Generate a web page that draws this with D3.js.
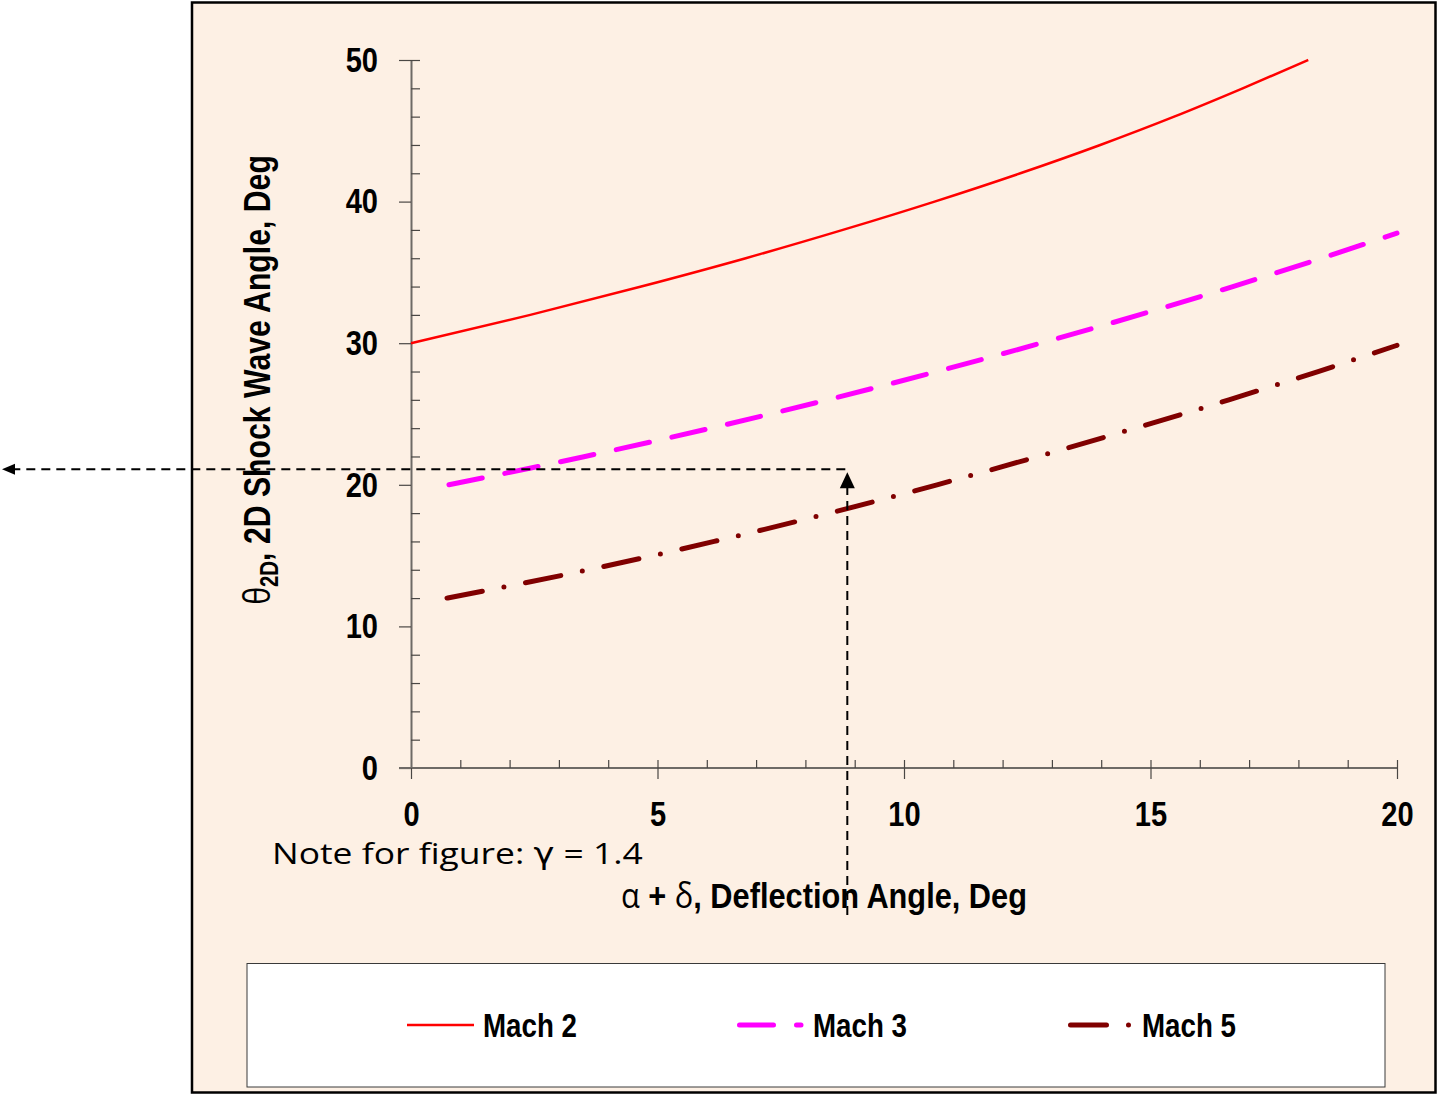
<!DOCTYPE html>
<html>
<head>
<meta charset="utf-8">
<script src="https://cdn.jsdelivr.net/npm/d3@7"></script>
<style>
  html, body { margin: 0; padding: 0; background: #ffffff; }
  svg { display: block; }
  .narrow { font-family: 'Liberation Sans Narrow', 'Arial Narrow', 'Liberation Sans', Arial, sans-serif; font-weight: bold; }
  .greek { font-family: 'Open Sans', 'DejaVu Sans', sans-serif; font-weight: normal; }
</style>
</head>
<body>
<svg id="chart" width="1437" height="1095"></svg>
<script>
// Oblique-shock curves: deflection angle (deg) vs. 2D shock wave angle (deg), gamma = 1.4
const mach2Deflection = [0, 2.42, 4.67, 6.79, 8.76, 10.62, 12.36, 13.98, 15.48, 16.87, 18.2];
const mach2Shock      = [30, 32, 34, 36, 38, 40, 42, 44, 46, 48, 50];
const mach3Deflection = [0.77, 3.53, 6.08, 8.45, 10.67, 12.77, 14.77, 16.67, 18.47, 20.0];
const mach3Shock      = [20, 22, 24, 26, 28, 30, 32, 34, 36, 37.77];
const mach5Deflection = [0.73, 3.60, 6.15, 8.49, 10.67, 12.72, 14.69, 16.59, 18.40, 20.0];
const mach5Shock      = [12, 14, 16, 18, 20, 22, 24, 26, 28, 29.85];

const seriesNames = ["Mach 2", "Mach 3", "Mach 5"];
const xTicks = [0, 5, 10, 15, 20];
const yTicks = [0, 10, 20, 30, 40, 50];

// Worked example: read-off point on the Mach 3 curve
const readDeflection = 8.85;
const readShock = 21.1;

const svg = d3.select("#chart");

// Squeeze or stretch a text element horizontally around its x anchor
function scaleText(el, f) {
  const base = el.getAttribute("transform") || "";
  const ax = +(el.getAttribute("x") || 0);
  el.setAttribute("transform", `${base} translate(${ax},0) scale(${f},1) translate(${-ax},0)`);
}
function fitWidth(el, target) {
  scaleText(el, target / el.getBBox().width);
}

// Panel
svg.append("rect")
  .attr("x", 192).attr("y", 2.5).attr("width", 1243.5).attr("height", 1090)
  .attr("fill", "#fdf0e4").attr("stroke", "#000").attr("stroke-width", 2.5);

const x = d3.scaleLinear().domain([0, 20]).range([411, 1397]);
const y = d3.scaleLinear().domain([0, 50]).range([768, 60]);

const axisColor = "#6e6a66";
const narrowFactor = 0.83;

// Y axis: major ticks outside, minor ticks inside
const yMajor = svg.append("g").attr("transform", `translate(${x(0)},0)`)
  .call(d3.axisLeft(y).tickValues(yTicks).tickSize(12).tickPadding(21).tickSizeOuter(0));
const yMinor = svg.append("g").attr("transform", `translate(${x(0)},0)`)
  .call(d3.axisLeft(y).tickValues(d3.range(2, 51, 2).filter(v => v % 10 !== 0 || v === 50))
    .tickSize(-9).tickFormat("").tickSizeOuter(0));

// X axis: major ticks cross the line, minor ticks inside
const xMajor = svg.append("g").attr("transform", `translate(0,${y(0)})`)
  .call(d3.axisBottom(x).tickValues(xTicks).tickSize(11).tickPadding(22).tickSizeOuter(0));
xMajor.selectAll(".tick line").filter(d => d !== 0).attr("y1", -8);
const xMinor = svg.append("g").attr("transform", `translate(0,${y(0)})`)
  .call(d3.axisBottom(x).tickValues(d3.range(1, 20).filter(v => v % 5 !== 0))
    .tickSize(-8).tickFormat("").tickSizeOuter(0));
// extend x-axis line to meet the outer y tick at zero
xMajor.select(".domain").attr("d", `M${x(0) - 12},0H${x(20)}`);

[yMajor, yMinor, xMajor, xMinor].forEach(g => {
  g.select(".domain").attr("stroke", axisColor).attr("stroke-width", 2);
  g.selectAll(".tick line").attr("stroke", "#4a4744").attr("stroke-width", 1.2);
  g.selectAll(".tick text").attr("class", "narrow").attr("fill", "#000")
    .style("font-size", "35px")
    .each(function () { scaleText(this, narrowFactor); });
});
yMinor.select(".domain").remove();
xMinor.select(".domain").remove();

// Curves
const line = d3.line().x(d => x(d[0])).y(d => y(d[1])).curve(d3.curveMonotoneX);
const styles = [
  { color: "#ff0000", width: 2.5, dash: null, cap: "butt" },
  { color: "#ff00ff", width: 5, dash: "34,23", cap: "round" },
  { color: "#800000", width: 5, dash: "36,22,0,22", cap: "round" }
];
const series = [
  d3.zip(mach2Deflection, mach2Shock),
  d3.zip(mach3Deflection, mach3Shock),
  d3.zip(mach5Deflection, mach5Shock)
];
series.forEach((pts, i) => {
  svg.append("path").datum(pts)
    .attr("d", line)
    .attr("fill", "none")
    .attr("stroke", styles[i].color)
    .attr("stroke-width", styles[i].width)
    .attr("stroke-linecap", styles[i].cap)
    .attr("stroke-dasharray", styles[i].dash);
});

// Read-off guide lines with arrows
const gx = x(readDeflection), gy = y(readShock);
const guide = svg.append("g").attr("stroke", "#000").attr("stroke-width", 2)
  .attr("stroke-dasharray", "9,6").attr("fill", "none");
guide.append("line").attr("x1", gx - 2).attr("y1", gy).attr("x2", 12).attr("y2", gy);
guide.append("line").attr("x1", gx).attr("y1", 915).attr("x2", gx).attr("y2", gy + 18);
svg.append("path")
  .attr("d", `M2,${gy}L15,${gy - 5.5}L15,${gy + 5.5}Z`).attr("fill", "#000");
svg.append("path")
  .attr("d", `M${gx},${gy + 3}L${gx - 7.5},${gy + 19}L${gx + 7.5},${gy + 19}Z`).attr("fill", "#000");

// Axis titles
const yTitle = svg.append("text").attr("class", "narrow")
  .attr("transform", `translate(270,380) rotate(-90)`)
  .attr("text-anchor", "middle").style("font-size", "37px").attr("fill", "#000");
yTitle.append("tspan").attr("class", "greek").text("θ");
yTitle.append("tspan").attr("dy", 8).style("font-size", "25px").text("2D");
yTitle.append("tspan").attr("dy", -8).text(", 2D Shock Wave Angle, Deg");
fitWidth(yTitle.node(), 450);

const xTitle = svg.append("text").attr("class", "narrow")
  .attr("x", 621).attr("y", 908).style("font-size", "35px").attr("fill", "#000");
xTitle.append("tspan").attr("class", "greek").text("α");
xTitle.append("tspan").text(" + ");
xTitle.append("tspan").attr("class", "greek").text("δ");
xTitle.append("tspan").text(", Deflection Angle, Deg");
fitWidth(xTitle.node(), 406);

const note = svg.append("text")
  .attr("x", 272).attr("y", 864)
  .style("font-family", "'Open Sans', Lato, sans-serif").style("font-size", "30px")
  .attr("fill", "#000");
note.append("tspan").text("Note for figure: ");
note.append("tspan").style("font-family", "'DejaVu Sans', sans-serif").text("γ");
note.append("tspan").text(" = 1.4");
fitWidth(note.node(), 371);

// Legend
svg.append("rect").attr("x", 247).attr("y", 963.5).attr("width", 1138).attr("height", 1087 - 963.5)
  .attr("fill", "#fff").attr("stroke", "#3a3a3a").attr("stroke-width", 1);
const legendSamples = [[407, 474], [739.5, 801], [1070.5, 1129]];
const legendText = [483, 813, 1142];
seriesNames.forEach((name, i) => {
  svg.append("line")
    .attr("x1", legendSamples[i][0]).attr("x2", legendSamples[i][1])
    .attr("y1", 1025).attr("y2", 1025)
    .attr("stroke", styles[i].color).attr("stroke-width", styles[i].width)
    .attr("stroke-linecap", styles[i].cap).attr("stroke-dasharray", styles[i].dash);
  const t = svg.append("text").attr("class", "narrow")
    .attr("x", legendText[i]).attr("y", 1037)
    .style("font-size", "34px").attr("fill", "#000").text(name);
  fitWidth(t.node(), 94);
});
</script>
</body>
</html>
